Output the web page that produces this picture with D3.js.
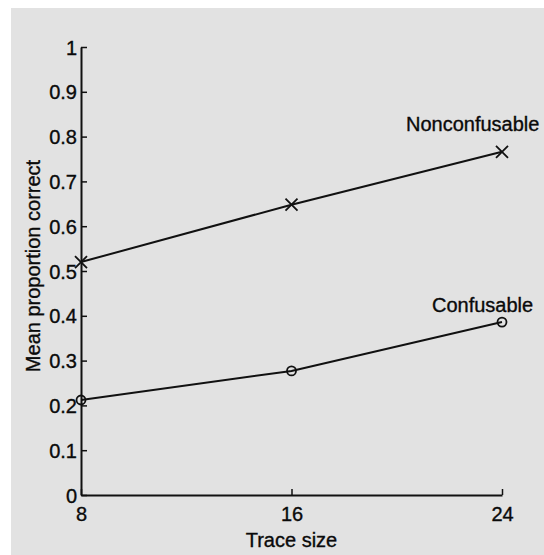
<!DOCTYPE html>
<html><head><meta charset="utf-8">
<script src="https://cdn.jsdelivr.net/npm/d3@7"></script>
<style>body{margin:0;background:#fff}svg{display:block}text{font-family:"Liberation Sans",Arial,sans-serif;fill:#0a0a0a;stroke:#0a0a0a;stroke-width:0.35px}</style>
</head><body>
<script>
const traceSizes = [8, 16, 24];
const nonconfusable = [0.52, 0.648, 0.766];
const confusable = [0.212, 0.277, 0.386];
const yTicks = [0, 0.1, 0.2, 0.3, 0.4, 0.5, 0.6, 0.7, 0.8, 0.9, 1];
const yTickLabels = ["0", "0.1", "0.2", "0.3", "0.4", "0.5", "0.6", "0.7", "0.8", "0.9", "1"];
const xTickLabels = ["8", "16", "24"];
const seriesNames = ["Nonconfusable", "Confusable"];

const W = 544, H = 555;
const svg = d3.select("body").append("svg").attr("width", W).attr("height", H);
svg.append("rect").attr("x", 11).attr("y", 8).attr("width", W - 11).attr("height", H - 8).attr("fill", "#e2e2e2");

const x = d3.scaleLinear().domain([8, 24]).range([81, 502]);
const y = d3.scaleLinear().domain([0, 1]).range([495, 47]);
const fs = 20;
const ff = "Liberation Sans, Arial, sans-serif";

// y axis
const yAxis = d3.axisLeft(y).tickValues(yTicks).tickFormat((d, i) => yTickLabels[i]).tickSizeInner(-6).tickSizeOuter(0).tickPadding(10);
const gy = svg.append("g").attr("transform", `translate(${x(8)},0)`).call(yAxis);
gy.select(".domain").attr("stroke", "#111").attr("stroke-width", 2);
gy.selectAll(".tick line").attr("stroke", "#111").attr("stroke-width", 1.5);
gy.selectAll(".tick text").attr("font-size", fs).attr("font-family", ff).attr("fill", "#0a0a0a").attr("x", -4).attr("dy", "0.35em");

// x axis
const xAxis = d3.axisBottom(x).tickValues(traceSizes).tickFormat((d, i) => xTickLabels[i]).tickSizeInner(-6).tickSizeOuter(0).tickPadding(10);
const gx = svg.append("g").attr("transform", `translate(0,${y(0)})`).call(xAxis);
gx.select(".domain").attr("stroke", "#111").attr("stroke-width", 2);
gx.selectAll(".tick line").attr("stroke", "#111").attr("stroke-width", 1.5);
gx.selectAll(".tick text").attr("font-size", fs).attr("font-family", ff).attr("fill", "#0a0a0a").attr("y", 12).attr("dy", "0.71em");

// axis labels
svg.append("text").attr("x", x(16)).attr("y", 547).attr("text-anchor", "middle").attr("font-size", fs).text("Trace size");
svg.append("text").attr("transform", `translate(40,${266}) rotate(-90)`).attr("text-anchor", "middle").attr("font-size", fs).text("Mean proportion correct");

const line = d3.line().x((d, i) => x(traceSizes[i])).y(d => y(d));

// Nonconfusable
svg.append("path").datum(nonconfusable).attr("d", line).attr("fill", "none").attr("stroke", "#111").attr("stroke-width", 2);
svg.selectAll(".xm").data(nonconfusable).enter().append("path").attr("class", "xm")
  .attr("transform", (d, i) => `translate(${x(traceSizes[i])},${y(d)})`)
  .attr("d", "M-6,-6L6,6M-6,6L6,-6").attr("stroke", "#111").attr("stroke-width", 1.8).attr("fill", "none");

// Confusable
svg.append("path").datum(confusable).attr("d", line).attr("fill", "none").attr("stroke", "#111").attr("stroke-width", 2);
svg.selectAll(".cm").data(confusable).enter().append("circle").attr("class", "cm")
  .attr("cx", (d, i) => x(traceSizes[i])).attr("cy", d => y(d)).attr("r", 4.5)
  .attr("fill", "none").attr("stroke", "#111").attr("stroke-width", 1.8);

// series labels
svg.append("text").attr("x", 406).attr("y", 131).attr("font-size", fs).text(seriesNames[0]);
svg.append("text").attr("x", 432).attr("y", 312).attr("font-size", fs).text(seriesNames[1]);
</script>
</body></html>
